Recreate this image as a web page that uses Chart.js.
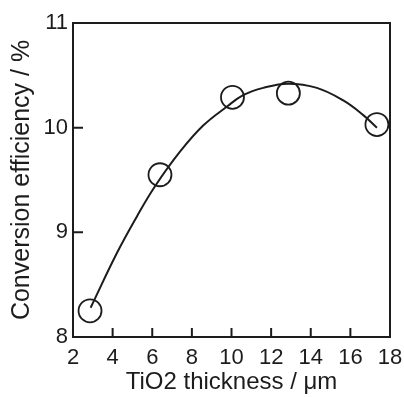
<!DOCTYPE html>
<html>
<head>
<meta charset="utf-8">
<script src="https://cdn.jsdelivr.net/npm/chart.js@4.4.1/dist/chart.umd.min.js"></script>
<style>
  html, body { margin: 0; padding: 0; background: #fff; }
  #wrap { width: 404px; height: 397px; }
</style>
</head>
<body>
<div id="wrap"><canvas id="effChart"></canvas></div>
<script>
// measured points (circles)
const thickness = [2.86, 6.39, 10.05, 12.87, 17.34];
const efficiency = [8.25, 9.55, 10.29, 10.33, 10.03];

// fitted curve
const curveX = [2.89, 4.21, 5.22, 6.14, 7.40, 8.57, 9.76, 10.59, 11.60, 12.86, 14.31, 15.64, 16.65, 17.34];
const curveY = [8.28, 8.80, 9.15, 9.44, 9.77, 10.02, 10.20, 10.31, 10.38, 10.42, 10.38, 10.26, 10.12, 10.00];

const xTicks = [2, 4, 6, 8, 10, 12, 14, 16, 18];
const yTicks = [8, 9, 10, 11];

const ink = '#1c1c1c';
const fontFam = '"Liberation Sans", Arial, sans-serif';

// box around plot + ticks pointing inward
const frameTicks = {
    id: 'frameTicks',
    afterDatasetsDraw(chart) {
        const { ctx, chartArea: a, scales } = chart;
        ctx.save();
        ctx.strokeStyle = ink;
        ctx.lineWidth = 2;
        ctx.strokeRect(a.left, a.top, a.right - a.left, a.bottom - a.top);
        ctx.beginPath();
        xTicks.slice(1, -1).forEach(v => {
            const px = scales.x.getPixelForValue(v);
            ctx.moveTo(px, a.bottom);
            ctx.lineTo(px, a.bottom - 9);
        });
        yTicks.slice(1, -1).forEach(v => {
            const py = scales.y.getPixelForValue(v);
            ctx.moveTo(a.left, py);
            ctx.lineTo(a.left + 10, py);
        });
        ctx.stroke();
        ctx.restore();
    }
};

new Chart(document.getElementById('effChart'), {
    type: 'scatter',
    data: {
        datasets: [
            {
                data: curveX.map((x, i) => ({ x: x, y: curveY[i] })),
                showLine: true,
                borderColor: ink,
                borderWidth: 2,
                pointRadius: 0,
                tension: 0.4,
                fill: false
            },
            {
                data: thickness.map((x, i) => ({ x: x, y: efficiency[i] })),
                showLine: false,
                pointRadius: 11.5,
                pointBorderWidth: 1.8,
                pointBorderColor: ink,
                pointBackgroundColor: 'rgba(0,0,0,0)',
                clip: false
            }
        ]
    },
    options: {
        responsive: true,
        maintainAspectRatio: false,
        animation: false,
        layout: { padding: { left: 0, right: 0, top: 23, bottom: 0 } },
        plugins: { legend: { display: false }, tooltip: { enabled: false } },
        scales: {
            x: {
                type: 'linear',
                min: 2, max: 18,
                afterBuildTicks: s => { s.ticks = xTicks.map(v => ({ value: v })); },
                afterFit: s => { s.height = 60; s.paddingRight = 14; },
                grid: { display: false, drawTicks: false },
                border: { display: false },
                ticks: { color: ink, padding: 8, maxRotation: 0, font: { family: fontFam, size: 22 } },
                title: {
                    display: true,
                    text: 'TiO2 thickness / μm',
                    color: ink,
                    padding: { top: 0, bottom: 0 },
                    font: { family: fontFam, size: 24 }
                }
            },
            y: {
                type: 'linear',
                min: 8, max: 11,
                afterBuildTicks: s => { s.ticks = yTicks.map(v => ({ value: v })); },
                afterFit: s => { s.width = 73; },
                grid: { display: false, drawTicks: false },
                border: { display: false },
                ticks: { color: ink, padding: 5, font: { family: fontFam, size: 22 } },
                title: {
                    display: true,
                    text: 'Conversion efficiency / %',
                    color: ink,
                    padding: { top: 7, bottom: 0 },
                    font: { family: fontFam, size: 25 }
                }
            }
        }
    },
    plugins: [frameTicks]
});
</script>
</body>
</html>
